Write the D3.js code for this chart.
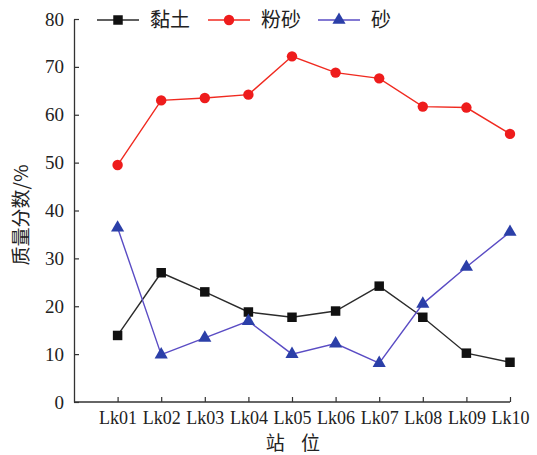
<!DOCTYPE html>
<html>
<head>
<meta charset="utf-8">
<script src="https://cdn.jsdelivr.net/npm/d3@7"></script>
<style>
  html, body { margin: 0; padding: 0; background: #fff; }
  svg { display: block; }
</style>
</head>
<body>
<svg id="chart" width="537" height="455"></svg>
<script>
// Stations along the sampling transect
const stations = ["Lk01", "Lk02", "Lk03", "Lk04", "Lk05", "Lk06", "Lk07", "Lk08", "Lk09", "Lk10"];
// Grain-size fractions (mass %)
const clay = [13.9, 27.0, 23.0, 18.8, 17.7, 19.0, 24.2, 17.7, 10.2, 8.3];
const silt = [49.5, 63.0, 63.5, 64.2, 72.2, 68.8, 67.6, 61.7, 61.5, 56.0];
const sand = [36.4, 9.9, 13.4, 16.9, 10.0, 12.2, 8.1, 20.5, 28.2, 35.5];
const yTicks = [0, 10, 20, 30, 40, 50, 60, 70, 80];
const seriesNames = ["黏土", "粉砂", "砂"];

const series = [
  { name: seriesNames[0], values: clay, line: "#2b2b2b", fill: "#111111", symbol: d3.symbolSquare, size: 90 },
  { name: seriesNames[1], values: silt, line: "#f02a20", fill: "#ee1c1c", symbol: d3.symbolCircle, size: 85 },
  { name: seriesNames[2], values: sand, line: "#5a4cc4", fill: "#2b3fa8", symbol: d3.symbolTriangle, size: 75 }
];

const svg = d3.select("#chart");
const plotLeft = 74, plotRight = 510, plotTop = 19, plotBottom = 402;
const step = (plotRight - plotLeft) / stations.length;

const x = d3.scalePoint().domain(stations).range([plotLeft + step, plotRight]);
const y = d3.scaleLinear().domain([0, 80]).range([plotBottom, plotTop]);

const serif = "'Liberation Serif', 'DejaVu Serif', serif";
const cjk = "'Noto Sans CJK SC', sans-serif";
const axisColor = "#333";

// Y axis with inward ticks
const yAxis = svg.append("g").attr("transform", `translate(${plotLeft},0)`)
  .call(d3.axisLeft(y).tickValues(yTicks).tickSizeInner(-5).tickSizeOuter(0).tickPadding(10));
yAxis.attr("font-family", serif);
yAxis.select(".domain").attr("stroke", axisColor).attr("stroke-width", 1.3);
yAxis.selectAll(".tick line").attr("stroke", axisColor).attr("stroke-width", 1.2);
yAxis.selectAll(".tick text").attr("font-family", serif).attr("font-size", 19).attr("fill", "#222");

// X axis with inward ticks; the line starts at the y axis
const xAxis = svg.append("g").attr("transform", `translate(0,${plotBottom})`)
  .call(d3.axisBottom(x).tickSizeInner(-5).tickSizeOuter(0).tickPadding(9));
xAxis.attr("font-family", serif);
xAxis.select(".domain").attr("d", `M${plotLeft},0H${plotRight}`).attr("stroke", axisColor).attr("stroke-width", 1.3);
xAxis.selectAll(".tick line").attr("stroke", axisColor).attr("stroke-width", 1.2);
xAxis.selectAll(".tick text").attr("font-family", serif).attr("font-size", 18).attr("fill", "#222");

// Axis titles
svg.append("text")
  .attr("x", (plotLeft + plotRight) / 2 + 4).attr("y", 450)
  .attr("text-anchor", "middle")
  .attr("font-family", cjk).attr("font-size", 19).attr("fill", "#222")
  .attr("letter-spacing", 6)
  .text("站 位");

svg.append("text")
  .attr("transform", "translate(28,215) rotate(-90)")
  .attr("text-anchor", "middle")
  .attr("font-family", cjk).attr("font-size", 19).attr("fill", "#222")
  .text("质量分数/%");

// Series lines and markers
const line = d3.line().x((d, i) => x(stations[i])).y(d => y(d));
series.forEach(s => {
  svg.append("path")
    .datum(s.values)
    .attr("d", line)
    .attr("fill", "none")
    .attr("stroke", s.line)
    .attr("stroke-width", 1.4);
  svg.append("g").selectAll("path")
    .data(s.values)
    .join("path")
    .attr("transform", (d, i) => `translate(${x(stations[i])},${y(d)})`)
    .attr("d", d3.symbol(s.symbol, s.size))
    .attr("fill", s.fill);
});

// Legend across the top
const legendPos = [{ x0: 97, tx: 150 }, { x0: 208, tx: 261 }, { x0: 318, tx: 371 }];
series.forEach((s, i) => {
  const g = svg.append("g").attr("transform", `translate(${legendPos[i].x0},20)`);
  g.append("line").attr("x1", 0).attr("x2", 42).attr("y1", 0).attr("y2", 0)
    .attr("stroke", s.line).attr("stroke-width", 1.4);
  g.append("path").attr("transform", "translate(21,0)")
    .attr("d", d3.symbol(s.symbol, s.size)).attr("fill", s.fill);
  svg.append("text")
    .attr("x", legendPos[i].tx).attr("y", 27)
    .attr("font-family", cjk).attr("font-size", 20).attr("fill", "#222")
    .text(s.name);
});
</script>
</body>
</html>
